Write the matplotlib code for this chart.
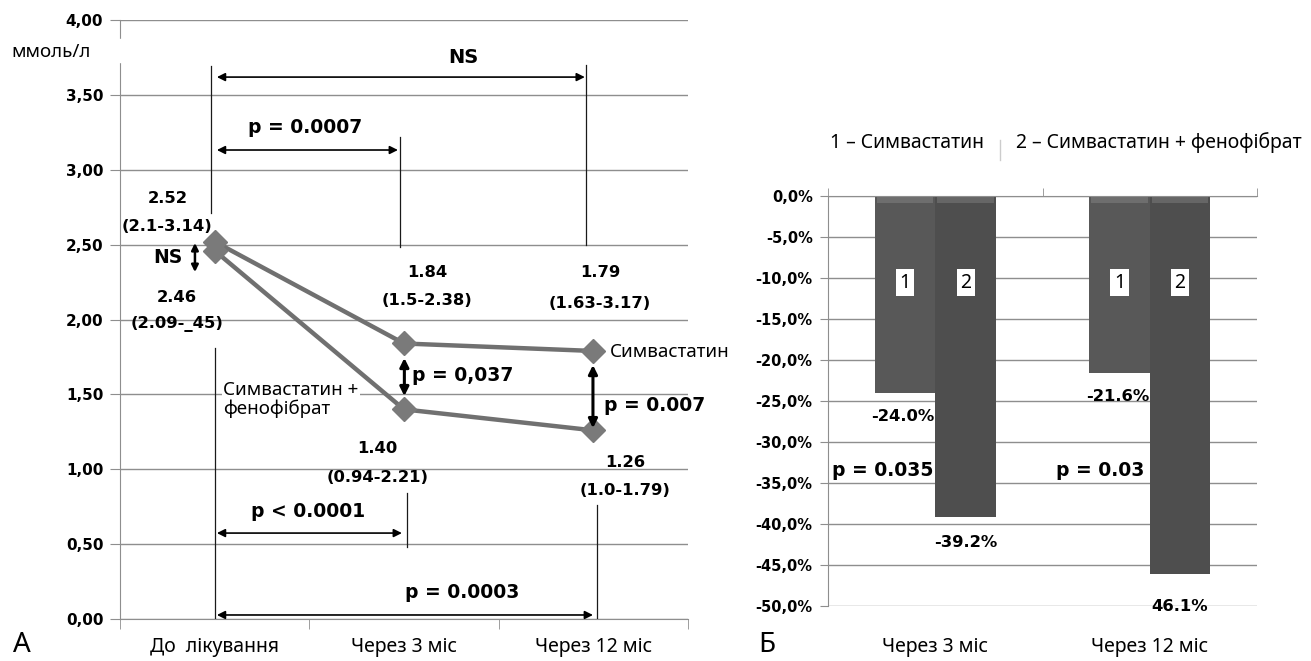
import numpy as np
import matplotlib.pyplot as plt
from matplotlib.patches import Rectangle

plt.rcParams['font.family'] = ['Noto Sans', 'DejaVu Sans']

# ---- panel A: level, mmol/l
periods = ['До  лікування', 'Через 3 міс', 'Через 12 міс']
simva = [2.52, 1.84, 1.79]
simva_feno = [2.46, 1.40, 1.26]
simva_ranges = ['(2.1-3.14)', '(1.5-2.38)', '(1.63-3.17)']
feno_ranges = ['(2.09-_45)', '(0.94-2.21)', '(1.0-1.79)']
left_yticks = [0.0, 0.5, 1.0, 1.5, 2.0, 2.5, 3.0, 3.5, 4.0]
left_yticklabels = ['0,00', '0,50', '1,00', '1,50', '2,00', '2,50', '3,00', '3,50', '4,00']

# ---- panel Б: change from baseline, %
bar_periods = ['Через 3 міс', 'Через 12 міс']
change_simva = [-24.0, -21.6]
change_feno = [-39.2, -46.1]
labels_simva = ['-24.0%', '-21.6%']
labels_feno = ['-39.2%', '46.1%']
p_bars = ['p = 0.035', 'p = 0.03']
right_yticks = [0, -5, -10, -15, -20, -25, -30, -35, -40, -45, -50]
right_yticklabels = ['0,0%', '-5,0%', '-10,0%', '-15,0%', '-20,0%', '-25,0%',
                     '-30,0%', '-35,0%', '-40,0%', '-45,0%', '-50,0%']

grid_c = '#8e8e8e'
bold = dict(fontweight='bold', family='DejaVu Sans')
num_fs = 11.8   # value labels
p_fs = 13.5     # p-value labels


def darrow(ax, x0, y0, x1, y1, lw=1.2, ms=12):
    ax.annotate('', xy=(x1, y1), xytext=(x0, y0),
                arrowprops=dict(arrowstyle='<|-|>', color='black', lw=lw,
                                mutation_scale=ms, shrinkA=0, shrinkB=0))


def vline(ax, x, y0, y1):
    ax.plot([x, x], [y0, y1], color='#1a1a1a', lw=0.9, zorder=4)


fig = plt.figure(figsize=(13.11, 6.61), dpi=100)

# ================= panel A =================
ax = fig.add_axes([0.0915, 0.0635, 0.4333, 0.9062])
x = np.arange(len(periods))
ax.set_xlim(-0.5, 2.5)
ax.set_ylim(0, 4)
ax.set_yticks(left_yticks)
ax.set_yticklabels(left_yticklabels, fontsize=11, **bold)
ax.set_xticks(x)
ax.set_xticklabels(periods, fontsize=14)
ax.set_xticks([-0.5, 0.5, 1.5, 2.5], minor=True)
ax.tick_params(axis='x', which='major', length=0, pad=13)
ax.tick_params(axis='x', which='minor', length=7, color=grid_c, direction='out')
ax.tick_params(axis='y', length=7, color=grid_c, pad=5)
ax.grid(axis='y', color=grid_c, lw=1.0)
ax.set_axisbelow(True)
for s in ['top', 'right']:
    ax.spines[s].set_visible(False)
for s in ['left', 'bottom']:
    ax.spines[s].set_color(grid_c)

ax.plot(x, simva, color='#707070', lw=3.2, marker='D', ms=12,
        markerfacecolor='#7a7a7a', markeredgecolor='#7a7a7a', zorder=3)
ax.plot(x, simva_feno, color='#707070', lw=3.2, marker='D', ms=12,
        markerfacecolor='#7a7a7a', markeredgecolor='#7a7a7a', zorder=3)

# unit label sits over a gap in the y axis
ax.add_patch(Rectangle((-0.53, 3.72), 0.06, 0.15, color='white', clip_on=False, zorder=5))
fig.text(11 / 1311, 1 - 52 / 661, 'ммоль/л', fontsize=13.5, va='center', ha='left')

# value labels with ranges
pos_simva = [(-0.25, 2.805, 2.618), (1.121, 2.311, 2.124), (2.035, 2.317, 2.11)]
pos_feno = [(-0.20, 2.150, 1.97), (0.86, 1.142, 0.948), (2.17, 1.048, 0.861)]
for (px, y1, y2), v, r in zip(pos_simva, simva, simva_ranges):
    ax.text(px, y1, f'{v:.2f}', ha='center', va='center', fontsize=num_fs, **bold)
    ax.text(px, y2, r, ha='center', va='center', fontsize=num_fs, **bold)
for (px, y1, y2), v, r in zip(pos_feno, simva_feno, feno_ranges):
    ax.text(px, y1, f'{v:.2f}', ha='center', va='center', fontsize=num_fs, **bold)
    ax.text(px, y2, r, ha='center', va='center', fontsize=num_fs, **bold)

# baseline vs 12 months (upper): NS
vline(ax, -0.02, 3.69, 2.71)
vline(ax, 1.962, 3.70, 2.50)
darrow(ax, 0.012, 3.619, 1.955, 3.619)
ax.text(1.312, 3.753, 'NS', ha='center', va='center', fontsize=14, **bold)

# baseline vs 3 months (upper)
vline(ax, 0.979, 3.22, 2.484)
darrow(ax, 0.012, 3.132, 0.968, 3.132)
ax.text(0.477, 3.279, 'p = 0.0007', ha='center', va='center', fontsize=p_fs, **bold)

# groups at baseline
darrow(ax, -0.104, 2.511, -0.104, 2.317, lw=1.8, ms=10)
ax.text(-0.247, 2.411, 'NS', ha='center', va='center', fontsize=13.5, **bold)

# between groups at 3 and 12 months
darrow(ax, 1.002, 1.743, 1.002, 1.489, lw=2.2, ms=13)
ax.text(1.042, 1.629, 'p = 0,037', ha='left', va='center', fontsize=p_fs, **bold)
darrow(ax, 1.998, 1.696, 1.998, 1.275, lw=2.2, ms=13)
ax.text(2.056, 1.429, 'p = 0.007', ha='left', va='center', fontsize=p_fs, **bold)

# series names
ax.text(2.088, 1.783, 'Симвастатин', ha='left', va='center', fontsize=13.5)
ax.text(0.044, 1.465, 'Симвастатин +\nфенофібрат', ha='left', va='center',
        fontsize=13.5, linespacing=1.05,
        bbox=dict(facecolor='white', edgecolor='none', pad=1), zorder=5)

# baseline vs 3 / 12 months (lower)
vline(ax, 0.002, 1.81, 0.0)
vline(ax, 1.016, 0.841, 0.481)
darrow(ax, 0.012, 0.574, 0.989, 0.574)
ax.text(0.493, 0.715, 'p < 0.0001', ha='center', va='center', fontsize=p_fs, **bold)
vline(ax, 2.019, 0.761, 0.0)
darrow(ax, 0.012, 0.027, 1.998, 0.027)
ax.text(1.307, 0.174, 'p = 0.0003', ha='center', va='center', fontsize=p_fs, **bold)

fig.text(22 / 1311, 1 - 645 / 661, 'А', fontsize=20, ha='center', va='center')

# ================= panel Б =================
ax2 = fig.add_axes([0.6316, 0.0832, 0.3272, 0.6203])
xb = np.arange(len(bar_periods))
w = 0.282
ax2.set_xlim(-0.5, 1.5)
ax2.set_ylim(-50, 0)
ax2.set_yticks(right_yticks)
ax2.set_yticklabels(right_yticklabels, fontsize=10.5, **bold)
ax2.tick_params(axis='y', length=6, color=grid_c, pad=5)
ax2.set_xticks(xb)
ax2.set_xticklabels(bar_periods, fontsize=14)
ax2.set_xticks([-0.5, 0.5, 1.5], minor=True)
ax2.tick_params(axis='x', which='major', length=0, pad=22)
ax2.tick_params(axis='x', which='minor', top=True, bottom=False,
                length=6, color=grid_c, direction='out')
ax2.grid(axis='y', color=grid_c, lw=1.0)
ax2.set_axisbelow(True)
for s in ['right', 'bottom']:
    ax2.spines[s].set_visible(False)
for s in ['left', 'top']:
    ax2.spines[s].set_color(grid_c)

ax2.bar(xb - w / 2, change_simva, w, color='#585858', zorder=2)
ax2.bar(xb + w / 2, change_feno, w, color='#4e4e4e', zorder=2)
# lighter bevel along the top of each bar
ax2.bar(xb - w / 2, -0.8, w * 0.94, color='#6e6e6e', zorder=2.1)
ax2.bar(xb + w / 2, -0.8, w * 0.94, color='#666666', zorder=2.1)

for xi in xb:
    ax2.text(xi - w / 2, -10.6, '1', ha='center', va='center', fontsize=14,
             bbox=dict(facecolor='white', edgecolor='none', pad=2.5), zorder=5)
    ax2.text(xi + w / 2, -10.6, '2', ha='center', va='center', fontsize=14,
             bbox=dict(facecolor='white', edgecolor='none', pad=2.5), zorder=5)

for xi, v, lab in zip(xb, change_simva, labels_simva):
    ax2.text(xi - w / 2 - 0.01, v - 2.9, lab, ha='center', va='center',
             fontsize=11.8, zorder=5, **bold)
for xi, v, lab, off in zip(xb, change_feno, labels_feno, [3.1, 4.0]):
    ax2.text(xi + w / 2, v - off, lab, ha='center', va='center',
             fontsize=11.8, zorder=5, **bold)

for px, p in zip([-0.245, 0.768], p_bars):
    ax2.text(px, -33.45, p, ha='center', va='center', fontsize=p_fs, zorder=5, **bold)

# legend line above the panel
fig.text(830 / 1311, 1 - 143 / 661, '1 – Симвастатин', fontsize=14, ha='left', va='center')
fig.text(1016 / 1311, 1 - 143 / 661, '2 – Симвастатин + фенофібрат', fontsize=14,
         ha='left', va='center')
fig.add_artist(plt.Line2D([1000 / 1311, 1000 / 1311], [1 - 160 / 661, 1 - 140 / 661],
                          color='#cccccc', lw=1))

fig.text(767 / 1311, 1 - 645 / 661, 'Б', fontsize=20, ha='center', va='center')

plt.savefig('out.png', dpi=100)
